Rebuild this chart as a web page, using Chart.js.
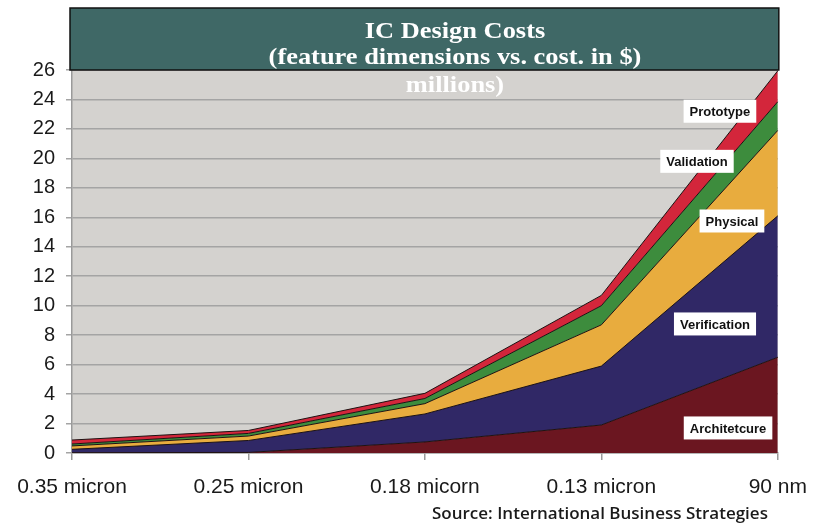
<!DOCTYPE html>
<html>
<head>
<meta charset="utf-8">
<script src="https://cdn.jsdelivr.net/npm/chart.js@4/dist/chart.umd.min.js"></script>
<style>
  html, body { margin: 0; padding: 0; background: #ffffff; }
  #wrap { width: 822px; height: 525px; position: relative; }
</style>
</head>
<body>
<div id="wrap"><canvas id="c" width="822" height="525"></canvas></div>
<script>
// Process nodes (x categories)
const nodes = ['0.35 micron', '0.25 micron', '0.18 micorn', '0.13 micron', '90 nm'];

// Cost components per node, $ millions (stacked bottom to top)
const architecture = [0.02, 0.04, 0.75, 1.9, 6.5];
const verification = [0.23, 0.81, 1.9, 4.0, 9.6];
const physical     = [0.23, 0.30, 0.7, 2.8, 5.8];
const validation   = [0.13, 0.18, 0.35, 1.3, 1.95];
const prototype    = [0.27, 0.20, 0.35, 0.7, 2.1];

// Value axis
const yMax = 26;
const yStep = 2;

// In-chart series captions: text, category position, value position
const captionText = ['Prototype', 'Validation', 'Physical', 'Verification', 'Architetcure'];
const captionAtX  = [3.672, 3.542, 3.74, 3.644, 3.718];
const captionAtY  = [23.2, 19.8, 15.75, 8.76, 1.7];

const titleLines = ['IC Design Costs', '(feature dimensions vs. cost. in $)', 'millions)'];
const sourceNote = 'Source: International Business Strategies';

const series = [
  { label: 'Architetcure', data: architecture, color: '#6b1620' },
  { label: 'Verification', data: verification, color: '#302866' },
  { label: 'Physical',     data: physical,     color: '#e8ac3e' },
  { label: 'Validation',   data: validation,   color: '#3d8c3d' },
  { label: 'Prototype',    data: prototype,    color: '#d3263b' }
];

const decor = {
  id: 'decor',
  beforeDraw(chart) {
    const { ctx, chartArea: a } = chart;
    ctx.save();
    ctx.fillStyle = '#ffffff';
    ctx.fillRect(0, 0, chart.width, chart.height);
    ctx.fillStyle = '#d4d2cf';
    ctx.fillRect(a.left, a.top, a.right - a.left, a.bottom - a.top);
    ctx.restore();
  },
  afterDatasetsDraw(chart) {
    const { ctx, scales } = chart;
    const x = scales.x, y = scales.y;
    ctx.save();
    ctx.font = 'bold 13px "Liberation Sans", Arial, sans-serif';
    ctx.textAlign = 'center';
    ctx.textBaseline = 'middle';
    captionText.forEach((t, i) => {
      const cx = x.getPixelForValue(captionAtX[i]);
      const cy = y.getPixelForValue(captionAtY[i]);
      const w = ctx.measureText(t).width + 12;
      const h = 23;
      ctx.fillStyle = '#ffffff';
      ctx.fillRect(cx - w / 2, cy - h / 2, w, h);
      ctx.fillStyle = '#111111';
      ctx.fillText(t, cx, cy + 1);
    });
    ctx.restore();
  },
  afterDraw(chart) {
    const { ctx, chartArea: a } = chart;
    ctx.save();
    // header band
    const top = 8;
    ctx.fillStyle = '#3f6866';
    ctx.fillRect(a.left - 2, top, a.right - a.left + 3, a.top - top);
    ctx.strokeStyle = '#111111';
    ctx.lineWidth = 1.5;
    ctx.strokeRect(a.left - 2, top, a.right - a.left + 3, a.top - top);
    // title text, slightly widened
    ctx.fillStyle = '#ffffff';
    ctx.font = 'bold 24px "Liberation Serif", "Times New Roman", serif';
    ctx.textAlign = 'center';
    ctx.textBaseline = 'middle';
    const tx = 455;
    const sx = 1.1;
    ctx.save();
    ctx.translate(tx, 0);
    ctx.scale(sx, 1);
    ctx.fillText(titleLines[0], 0, top + 24);
    ctx.fillText(titleLines[1], 0, top + 50);
    ctx.fillText(titleLines[2], 0, top + 78);
    ctx.restore();
    // source note
    ctx.fillStyle = '#1a1a1a';
    ctx.font = '600 17px "Open Sans", "DejaVu Sans", sans-serif';
    ctx.textAlign = 'left';
    ctx.fillText(sourceNote, 432, 514);
    ctx.restore();
  }
};

new Chart(document.getElementById('c'), {
  type: 'line',
  data: {
    labels: nodes,
    datasets: series.map((s, i) => ({
      label: s.label,
      data: s.data,
      backgroundColor: s.color,
      borderColor: '#1e1212',
      borderWidth: 1,
      pointRadius: 0,
      tension: 0,
      fill: i === 0 ? 'origin' : '-1'
    }))
  },
  options: {
    responsive: false,
    animation: false,
    devicePixelRatio: 1,
    layout: { padding: { top: 70, right: 42, left: 0, bottom: 0 } },
    plugins: { legend: { display: false }, tooltip: { enabled: false }, title: { display: false } },
    scales: {
      x: {
        type: 'category',
        offset: false,
        grid: { drawOnChartArea: false, drawTicks: true, tickLength: 7, color: '#9a9a9a', lineWidth: 1.5 },
        border: { color: '#9a9a9a', width: 1.5 },
        ticks: {
          autoSkip: false, maxRotation: 0, minRotation: 0, padding: 15,
          color: '#1a1a1a',
          font: { family: '"Liberation Sans", Arial, sans-serif', size: 21 }
        },
        afterFit(s) { s.height = 72; }
      },
      y: {
        stacked: true,
        min: 0, max: yMax,
        grid: { color: '#a4a4a4', lineWidth: 1.5, tickLength: 6, drawTicks: true },
        border: { color: '#9a9a9a', width: 1.5 },
        ticks: {
          stepSize: yStep, padding: 11,
          color: '#1a1a1a',
          font: { family: '"Liberation Sans", Arial, sans-serif', size: 20 }
        },
        afterFit(s) { s.width = 72; }
      }
    }
  },
  plugins: [decor]
});
</script>
</body>
</html>
